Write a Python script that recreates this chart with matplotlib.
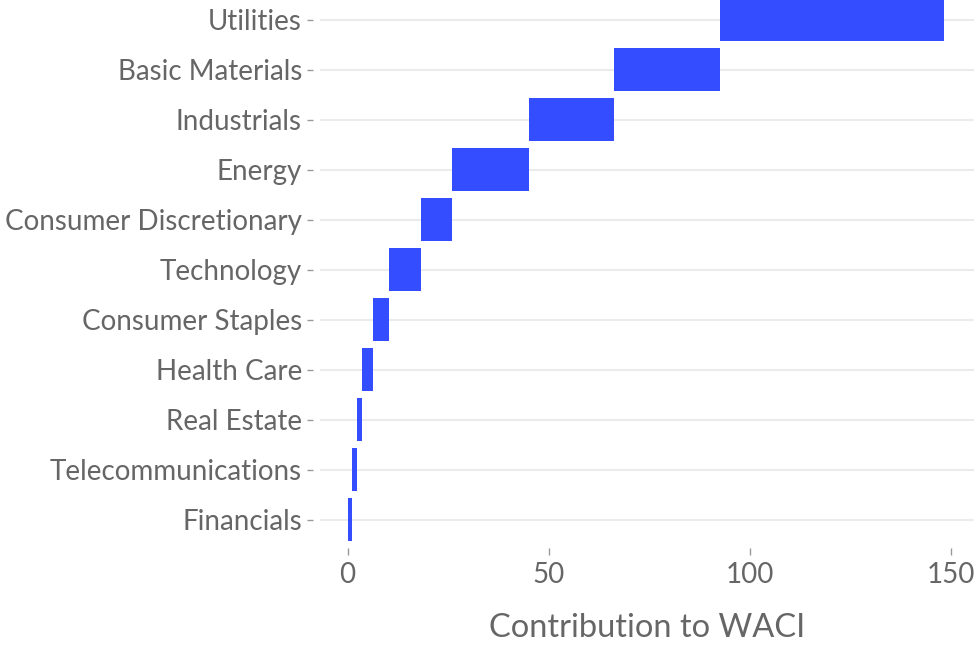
import matplotlib
matplotlib.use("Agg")
import matplotlib.pyplot as plt

sectors = ["Financials", "Telecommunications", "Real Estate", "Health Care",
           "Consumer Staples", "Technology", "Consumer Discretionary", "Energy",
           "Industrials", "Basic Materials", "Utilities"]
contrib = [1.1, 1.3, 1.2, 2.7, 4.0, 7.9, 7.7, 19.2, 21.1, 26.4, 55.7]
xticks = [0, 50, 100, 150]

starts = []
s = 0.0
for v in contrib:
    starts.append(s)
    s += v

plt.rcParams['font.family'] = ['Lato', 'DejaVu Sans']
txt = '#666666'

fig = plt.figure(figsize=(9.74, 6.46), dpi=100)
ax = fig.add_axes([320/974, 1 - 545/646, 654/974, 545/646])

ypos = list(range(len(sectors)))
ax.barh(ypos, contrib, left=starts, height=0.87, color='#334dff', zorder=3)

ax.set_ylim(-0.51, 10.39)
ax.set_xlim(-6.84, 155.8)
ax.set_yticks(ypos)
ax.set_yticklabels(sectors)
ax.set_xticks(xticks)
ax.grid(axis='y', color='#ebebeb', linewidth=1.5, zorder=0)
ax.grid(axis='x', visible=False)
for sp in ax.spines.values():
    sp.set_visible(False)
ax.spines['left'].set_position(('outward', 5))
ax.spines['bottom'].set_position(('outward', 2))
ax.tick_params(axis='y', length=4, width=1, color='#999999', labelsize=20,
               labelcolor=txt, pad=4)
ax.tick_params(axis='x', length=5, width=1, color='#999999', labelsize=20,
               labelcolor=txt, pad=5)
ax.set_xlabel("Contribution to WACI", fontsize=23.5, color=txt, labelpad=18)

fig.savefig("out.png", dpi=100)
